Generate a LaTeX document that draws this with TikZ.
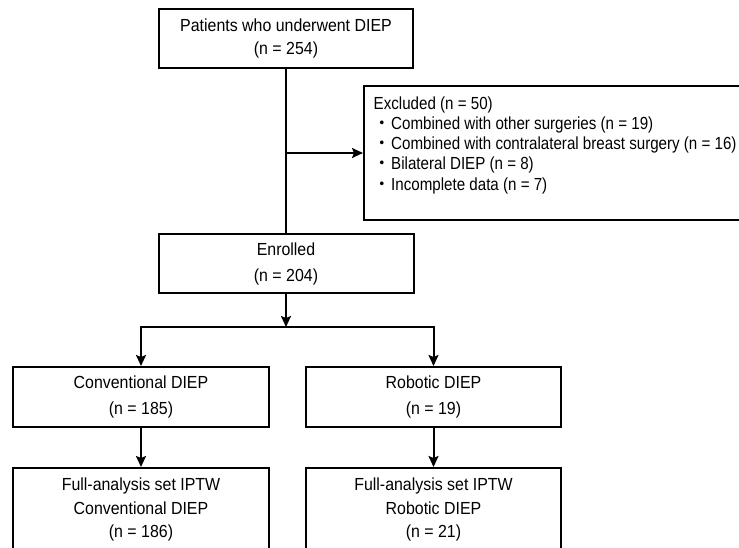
\documentclass[tikz,border=0pt]{standalone}
\usepackage{fontspec}
\setmainfont{Liberation Sans}[FakeStretch=0.91]
\newfontfamily\exfont{Liberation Sans}[FakeStretch=0.865]
\newfontfamily\cjk{Noto Sans CJK JP}
\usetikzlibrary{arrows.meta}
\begin{document}
\begin{tikzpicture}[x=1pt,y=-1pt,
  box/.style={draw=black, line width=2pt, inner sep=0pt, align=center, font=\fontsize{17.5}{23}\selectfont},
  wide/.style={font=\fontsize{17.5}{26}\selectfont},
  ln/.style={line width=2pt},
  arr/.style={line width=2pt, -{Stealth[length=11pt,width=10pt,inset=2pt]}}]
\clip (0,0) rectangle (739,547);
\node[box, minimum width=254pt, minimum height=59pt] (pat) at (286,38.5) {Patients who underwent DIEP\\(n = 254)};
\node[draw=black, line width=2pt, inner sep=0pt, minimum width=390pt, minimum height=134pt, anchor=north west] (exc) at (363,85) {};
\node[anchor=north west, inner sep=0pt, align=left, font=\exfont\fontsize{17.5}{20.25}\selectfont] (exct) at (373.5,96)
  {\rule{0pt}{13pt}Excluded (n = 50)\\
   {\cjk ・}Combined with other surgeries (n = 19)\\
   {\cjk ・}Combined with contralateral breast surgery (n = 16)\\
   {\cjk ・}Bilateral DIEP (n = 8)\\
   {\cjk ・}Incomplete data (n = 7)};
\node[box, wide, minimum width=255pt, minimum height=59pt] (enr) at (286,263.5) {Enrolled\\(n = 204)};
\node[box, wide, minimum width=256pt, minimum height=60pt] (conv) at (141,397) {Conventional DIEP\\(n = 185)};
\node[box, wide, minimum width=255pt, minimum height=60pt] (rob) at (433.5,397) {Robotic DIEP\\(n = 19)};
\node[box, font=\fontsize{17.5}{23.5}\selectfont, minimum width=256pt, minimum height=83pt] (fc) at (141,509.5) {Full-analysis set IPTW\\Conventional DIEP\\(n = 186)};
\node[box, font=\fontsize{17.5}{23.5}\selectfont, minimum width=255pt, minimum height=83pt] (fr) at (433.5,509.5) {Full-analysis set IPTW\\Robotic DIEP\\(n = 21)};
\coordinate (split) at (286,327);
\draw[ln] (pat.south) -- (enr.north);
\draw[arr] (pat.south |- exc.west) -- (exc.west);
\draw[arr] (enr.south) -- (split);
\draw[arr] (split) -| (conv.north);
\draw[arr] (split) -| (rob.north);
\draw[arr] (conv.south) -- (fc.north);
\draw[arr] (rob.south) -- (fr.north);
\end{tikzpicture}
\end{document}
